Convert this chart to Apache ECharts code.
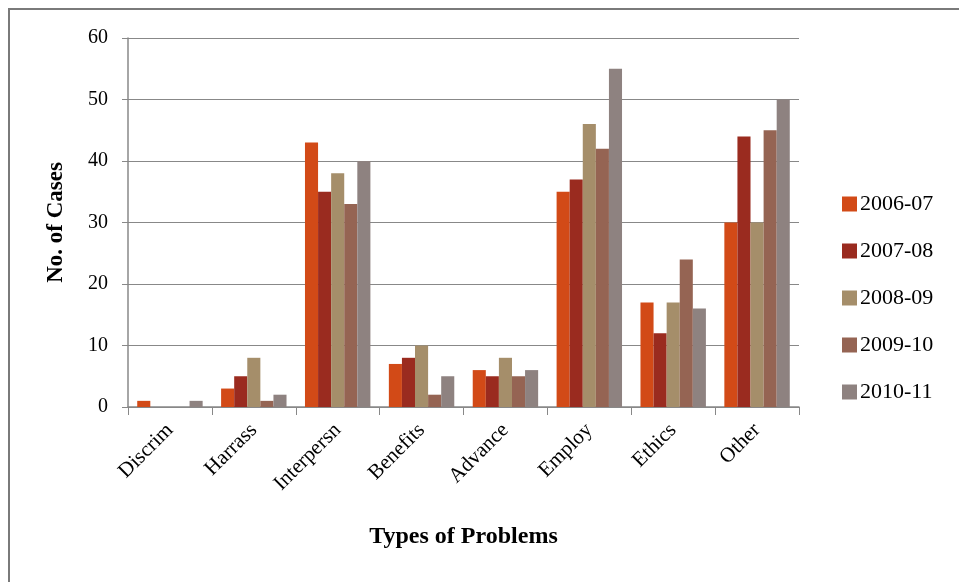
<!DOCTYPE html>
<html><head><meta charset="utf-8">
<script src="https://cdn.jsdelivr.net/npm/echarts@6/dist/echarts.min.js"></script>
<style>html,body{margin:0;padding:0;background:#fff}#c{width:959px;height:582px}</style>
</head><body><div id="c"></div>
<script>
const categories = ['Discrim','Harrass','Interpersn','Benefits','Advance','Employ','Ethics','Other'];
const seriesNames = ['2006-07','2007-08','2008-09','2009-10','2010-11'];
const s2006 = [1,3,43,7,6,35,17,30];
const s2007 = [0,5,35,8,5,37,12,44];
const s2008 = [0,8,38,10,8,46,17,30];
const s2009 = [0,1,33,2,5,42,24,45];
const s2010 = [1,2,40,5,6,55,16,50];
const colors = ['#D24A17','#9A2B1F','#A58E6A','#956453','#8E8280'];
const allData = [s2006,s2007,s2008,s2009,s2010];
const font = '"Liberation Serif", "DejaVu Serif", serif';
const chart = echarts.init(document.getElementById('c'));
chart.setOption({
  animation:false,
  textStyle:{fontFamily:font},
  graphic:[{type:'rect',shape:{x:9,y:9,width:980,height:600},style:{fill:'none',stroke:'#7a7a7a',lineWidth:2}}],
  grid:{left:128,right:160,top:38,bottom:175},
  legend:{orient:'vertical',left:837,top:188,itemWidth:15,itemHeight:15,itemGap:25,icon:'rect',
    textStyle:{fontFamily:font,fontSize:22,color:'#000',padding:[0,0,0,-2]}},
  xAxis:{type:'category',data:categories,
    name:'Types of Problems',nameLocation:'middle',nameGap:118,
    nameTextStyle:{fontFamily:font,fontSize:24,fontWeight:'bold',color:'#000'},
    axisLine:{lineStyle:{color:'#888',width:1.5}},
    axisTick:{show:true,length:8,lineStyle:{color:'#888'}},
    axisLabel:{rotate:45,fontFamily:font,fontSize:21,color:'#000',margin:20}},
  yAxis:{type:'value',min:0,max:60,interval:10,
    name:'No. of Cases',nameLocation:'middle',nameGap:60,
    nameTextStyle:{fontFamily:font,fontSize:23,fontWeight:'bold',color:'#000'},
    axisLine:{show:true,lineStyle:{color:'#888',width:1.5}},
    axisTick:{show:true,length:6,lineStyle:{color:'#888'}},
    splitLine:{lineStyle:{color:'#888',width:1.2}},
    axisLabel:{fontFamily:font,fontSize:20,color:'#000',margin:20}},
  series: seriesNames.map((n,i)=>({name:n,type:'bar',data:allData[i],barGap:'0%',barCategoryGap:'22%',
    itemStyle:{color:colors[i]}}))
});
</script></body></html>
